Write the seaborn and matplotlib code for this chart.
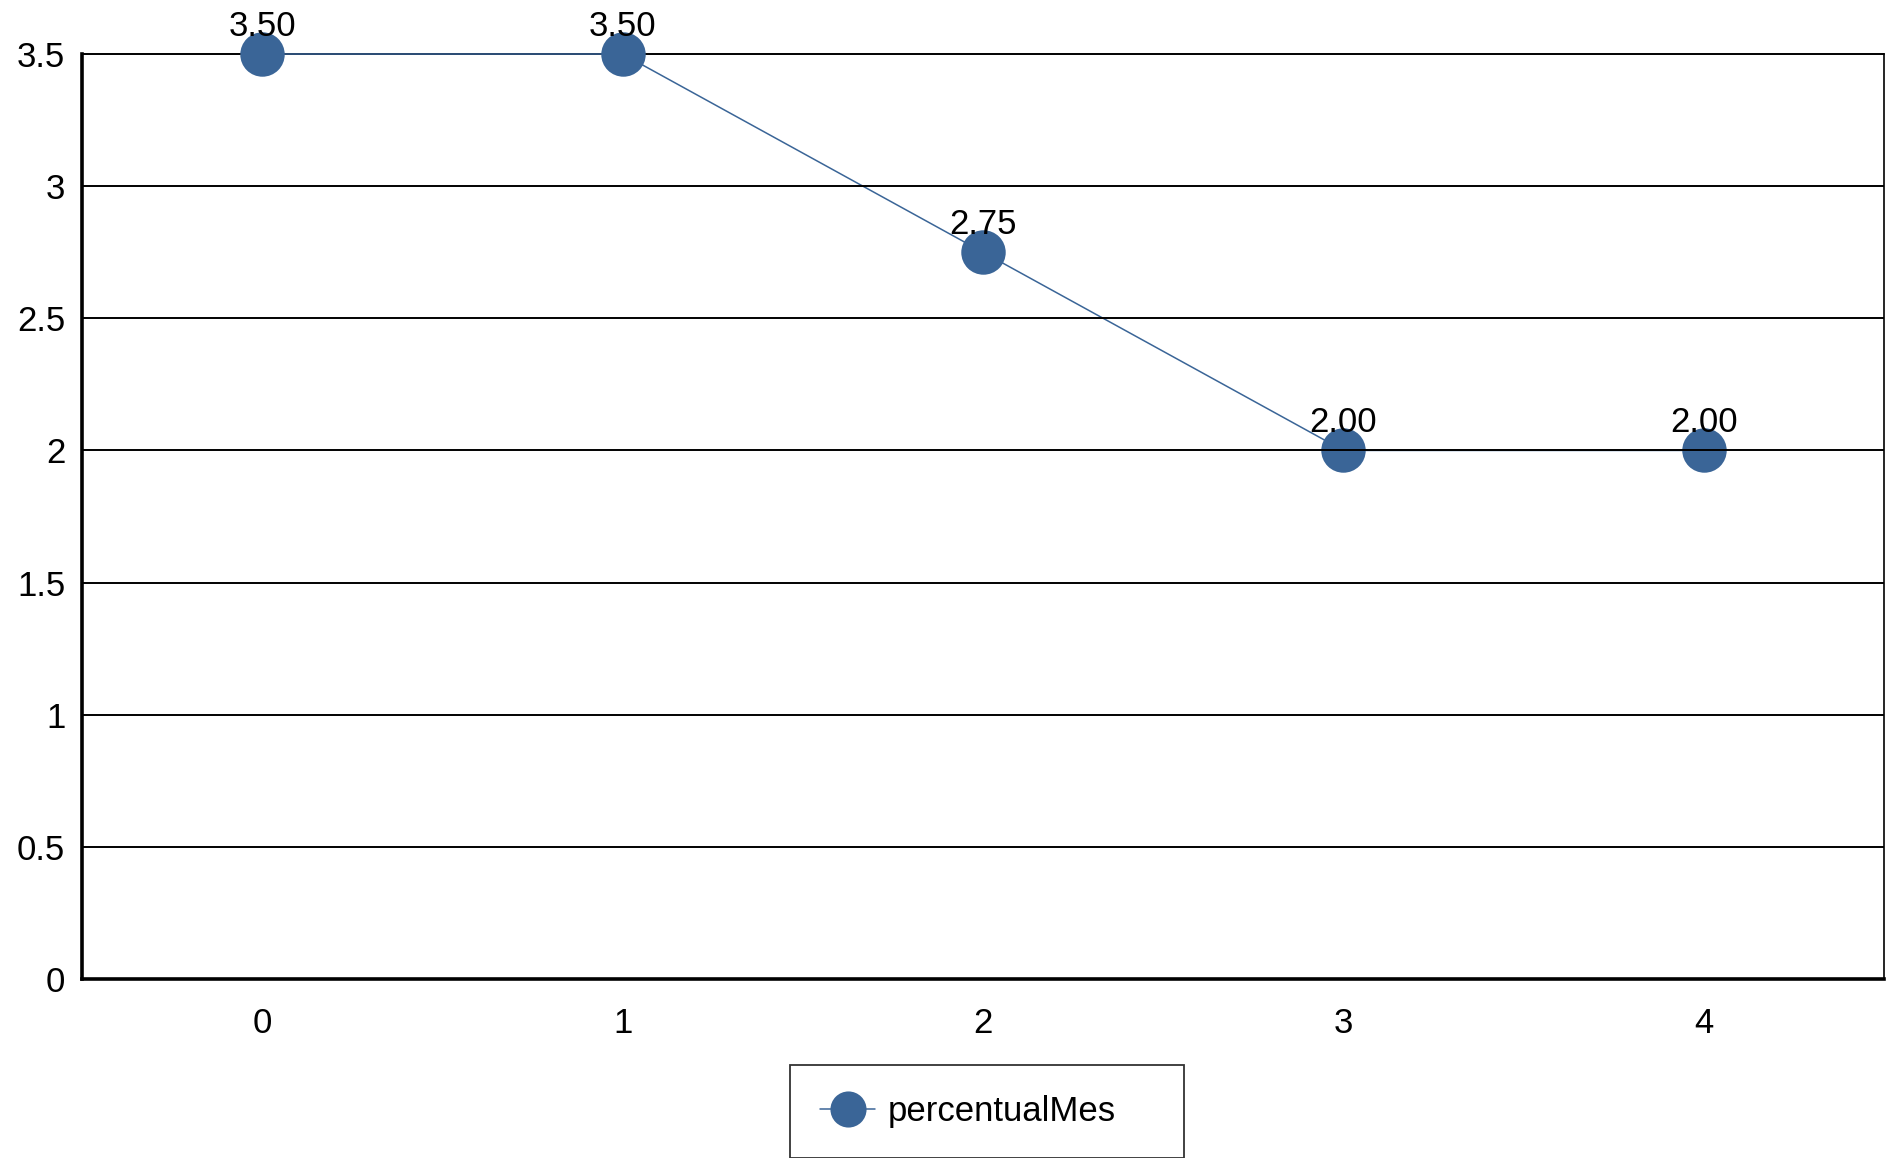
import matplotlib
matplotlib.use("Agg")
import matplotlib.pyplot as plt
import seaborn as sns
import pandas as pd
from matplotlib.lines import Line2D

x_values = [0, 1, 2, 3, 4]
y_values = [3.50, 3.50, 2.75, 2.00, 2.00]
series_name = "percentualMes"
y_ticks = [0, 0.5, 1, 1.5, 2, 2.5, 3, 3.5]
y_tick_labels = ["0", "0.5", "1", "1.5", "2", "2.5", "3", "3.5"]

sns.set_theme(style="white")
plt.rcParams['font.family'] = ['Liberation Sans', 'DejaVu Sans']
plt.rcParams['text.color'] = 'black'

W, H = 1891, 1158
color = "#3A6597"
fs = 25
df = pd.DataFrame({"x": x_values, "y": y_values, "series": series_name})

fig = plt.figure(figsize=(W/100, H/100), dpi=100)
ax = fig.add_axes([82/W, 1 - 979/H, (1884-82)/W, (979-54)/H])

sns.lineplot(data=df, x="x", y="y", ax=ax, color=color, marker="o",
             markersize=32, markeredgewidth=0, linewidth=1.1, legend=False, zorder=2)
for ln in ax.lines:
    ln.set_clip_on(False)

for yt in y_ticks[1:-1]:
    ax.axhline(yt, color="black", linewidth=1.4, zorder=2.5)
ax.axhline(y_ticks[-1], color="black", linewidth=1.4, zorder=1.5, clip_on=False)

for xv, yv in zip(x_values, y_values):
    ax.annotate(f"{yv:.2f}", (xv, yv), xytext=(0, 20), textcoords="offset points",
                ha="center", va="center", fontsize=fs, color="black", zorder=5,
                annotation_clip=False)

ax.set_xlim(-0.5, 4.5)
ax.set_ylim(0, 3.5)
ax.set_xticks(x_values)
ax.set_xticklabels([str(v) for v in x_values])
ax.set_yticks(y_ticks)
ax.set_yticklabels(y_tick_labels)
ax.tick_params(axis="both", labelsize=fs, colors="black", length=0)
ax.tick_params(axis="x", pad=20)
ax.tick_params(axis="y", pad=12)
ax.set_xlabel("")
ax.set_ylabel("")

for side in ["left", "bottom"]:
    ax.spines[side].set_color("black")
    ax.spines[side].set_linewidth(2.6)
ax.spines["right"].set_color("black")
ax.spines["right"].set_linewidth(1.2)
ax.spines["top"].set_visible(False)

handle = Line2D([], [], color=color, marker="o", markersize=26, markeredgewidth=0, linewidth=1.1)
leg = fig.legend([handle], [series_name], loc="lower left",
                 bbox_to_anchor=(790/W, 0.0, (1184-790)/W, (1158-1065)/H), mode="expand",
                 fontsize=fs, frameon=True, fancybox=False, edgecolor="black",
                 handlelength=1.6, borderpad=0.86, handletextpad=0.35, borderaxespad=0,
                 labelcolor="black")
leg.get_frame().set_linewidth(1.3)

fig.savefig("out.png", dpi=100, facecolor="white")
